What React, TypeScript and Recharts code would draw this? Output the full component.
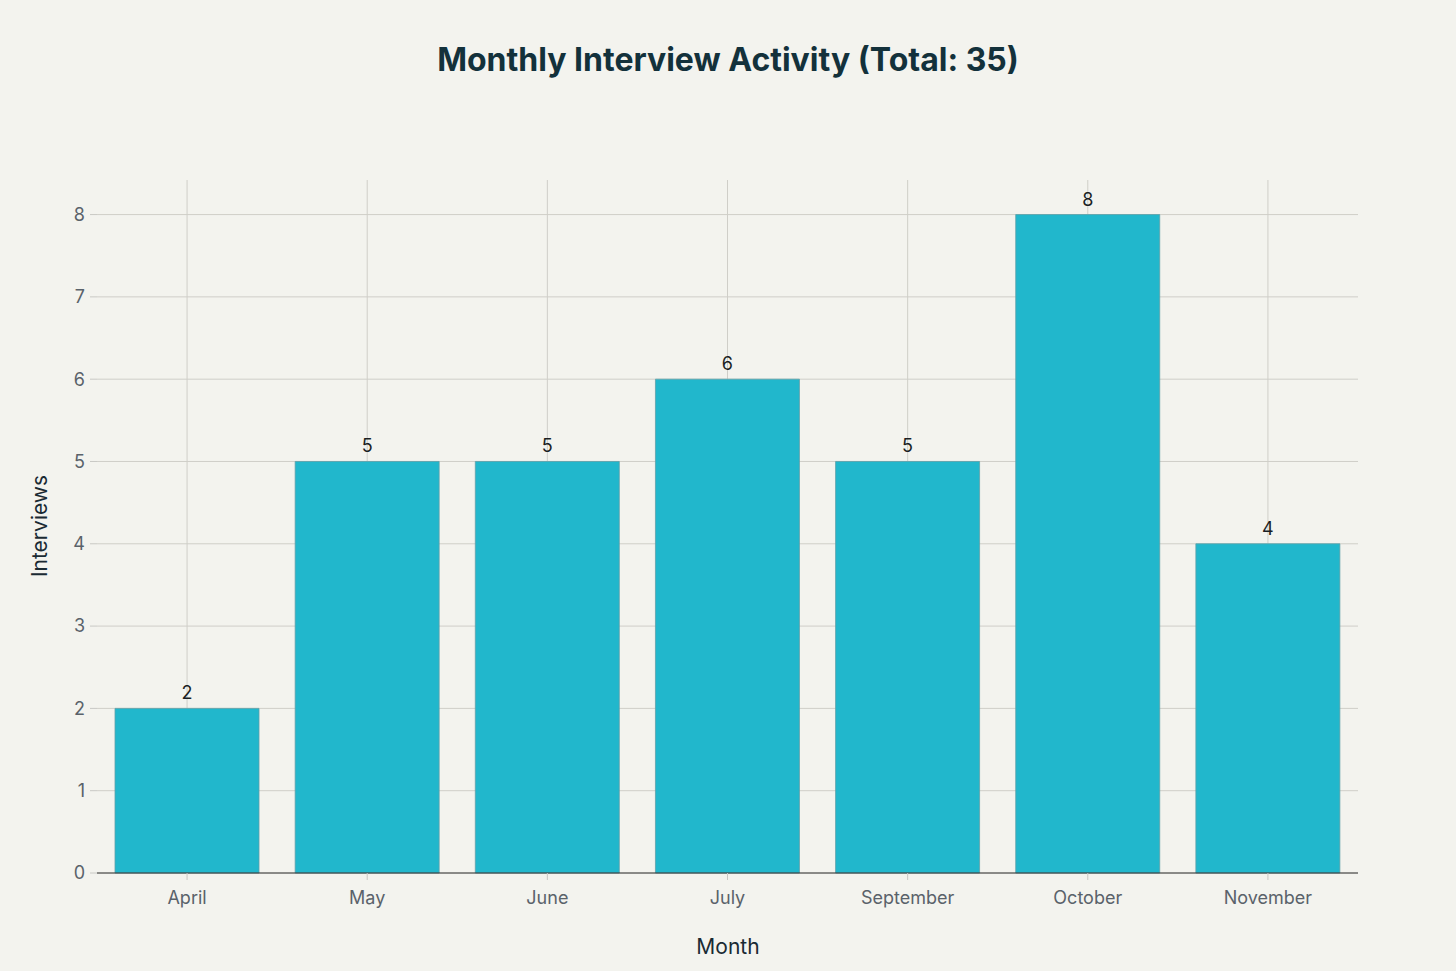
import React from 'react';
import { BarChart, Bar, XAxis, YAxis, CartesianGrid, LabelList } from 'recharts';

const months = ['April', 'May', 'June', 'July', 'September', 'October', 'November'];
const interviews = [2, 5, 5, 6, 5, 8, 4];
const yTicks = [0, 1, 2, 3, 4, 5, 6, 7, 8];

const data = months.map((m, i) => ({ month: m, value: interviews[i] }));

const FONT = 'Inter, "Noto Sans", sans-serif';

export default function App() {
  return (
    <div style={{ position: 'absolute', left: 0, top: 0, width: 1456, height: 971, background: '#F3F3EE', fontFamily: FONT }}>
      <BarChart
        width={1456}
        height={971}
        data={data}
        margin={{ top: 180, right: 98, bottom: 58, left: 37 }}
        barCategoryGap="10%"
      >
        <CartesianGrid stroke="#CFCEC8" strokeWidth={1} syncWithTicks />
        <XAxis
          dataKey="month"
          height={40}
          axisLine={{ stroke: '#333333', strokeWidth: 1 }}
          tickLine={{ stroke: '#C8C8C4' }}
          tickSize={7}
          tickMargin={11}
          tick={{ fill: '#5A626A', fontSize: 18, fontFamily: FONT }}
        />
        <YAxis
          width={60}
          domain={[0, 8.42]}
          ticks={yTicks}
          axisLine={false}
          tickLine={{ stroke: '#C8C8C4' }}
          tickSize={7}
          tickMargin={5}
          tick={{ fill: '#5A626A', fontSize: 18, fontFamily: FONT }}
        />
        <Bar dataKey="value" fill="#21B7CC" stroke="#5E9FA8" strokeWidth={0.8} isAnimationActive={false}>
          <LabelList dataKey="value" position="top" offset={9} fill="#1A1F24" fontSize={18} fontFamily={FONT} />
        </Bar>
      </BarChart>
      <div style={{ position: 'absolute', left: 0, top: 40, width: 1456, textAlign: 'center', fontSize: 32, fontWeight: 700, color: '#13313B', lineHeight: '40px' }}>
        Monthly Interview Activity (Total: 35)
      </div>
      <div style={{ position: 'absolute', left: 0, top: 933, width: 1456, textAlign: 'center', fontSize: 21, color: '#1A2A33', lineHeight: '28px' }}>
        Month
      </div>
      <div style={{ position: 'absolute', left: 40, top: 526, width: 0, height: 0 }}>
        <div style={{ position: 'absolute', transform: 'translate(-50%, -50%) rotate(-90deg)', whiteSpace: 'nowrap', fontSize: 21, color: '#1A2A33', lineHeight: '28px' }}>
          Interviews
        </div>
      </div>
    </div>
  );
}
